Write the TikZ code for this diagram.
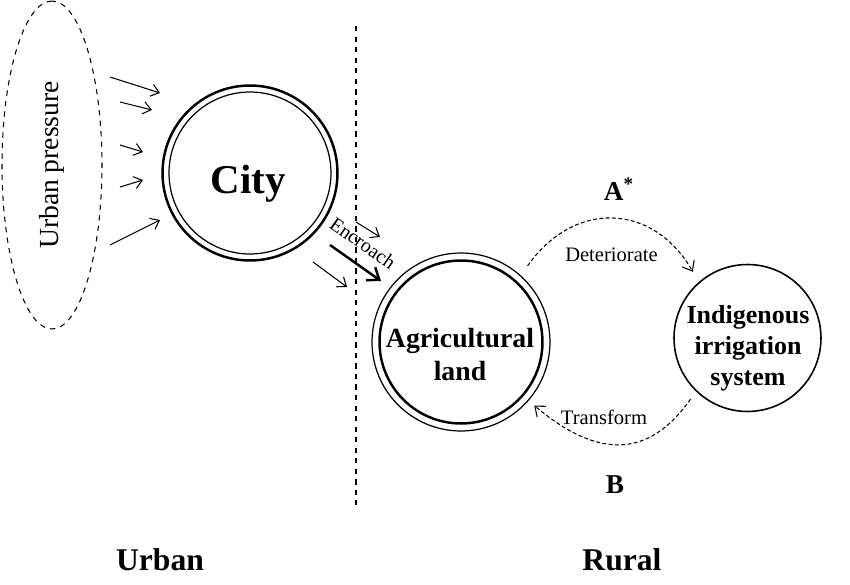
\documentclass[tikz,border=0pt]{standalone}
\usepackage{fontspec}
\setmainfont{Liberation Serif}
\usetikzlibrary{arrows.meta}
\usetikzlibrary{shapes.geometric}

\begin{document}
\begin{tikzpicture}[
        x=0.02cm, y=-0.02cm,
        ring/.style={circle, draw, inner sep=0pt},
        bigtext/.style={font=\bfseries\fontsize{15.8}{18.8}\selectfont, align=center},
        pressure/.style={-{Straight Barb[length=4.5pt, width=7pt]}, line width=0.6pt},
        cyclearrow/.style={-{Straight Barb[length=5pt, width=8pt]},
        dash pattern=on 2.2pt off 1.4pt, line width=0.6pt},
        smalltext/.style={font=\fontsize{11.7}{13}\selectfont},
        sidetext/.style={font=\bfseries\fontsize{18}{20}\selectfont, anchor=base},
    ]
    \useasboundingbox (0,0) rectangle (850,585);

    % --- Presion urbana ---
    \node[draw, ellipse, dashed, line width=0.6pt, minimum width=6.56cm, minimum height=2cm,
        rotate=90, font=\fontsize{15.7}{18}\selectfont] (press) at (52,165) {Urban pressure};

    % --- Ciudad ---
    \node[ring, line width=1.4pt, minimum size=3.5cm] (city) at (250,173) {};
    \node[ring, line width=0.7pt, minimum size=3.24cm] (cityin) at (city) {};
    \node[font=\bfseries\fontsize{23.3}{26}\selectfont, anchor=base] (citylbl) at (248,193) {City};

    % --- Flechas de presion ---
    \foreach \i/\sx/\sy/\ex/\ey in {1/110/77/160/93, 2/120/102/152/110, 3/120/145/143/152,
        4/120/187/143/180, 5/110/245/160/220} {
        \coordinate (ps\i) at (\sx,\sy);
        \coordinate (pe\i) at (\ex,\ey);
        \draw[pressure] (ps\i) -- (pe\i);
    }

    % --- Linea divisoria ---
    \coordinate (divtop) at (356,26);
    \coordinate (divbot) at (356,505);
    \draw[dashed, line width=0.6pt] (divtop) -- (divbot);

    % --- Invasion ---
    \foreach \i/\sx/\sy/\ex/\ey in {1/356/222/380/237, 3/313/262/347/287} {
        \coordinate (es\i) at (\sx,\sy);
        \coordinate (ee\i) at (\ex,\ey);
        \draw[pressure] (es\i) -- (ee\i);
    }
    \coordinate (es2) at (330,245);
    \coordinate (ee2) at (381,281);
    \draw[-{Straight Barb[length=6pt, width=9pt]}, line width=1.4pt] (es2) -- (ee2);
    \node[smalltext, font=\fontsize{11.3}{13}\selectfont, rotate=-35] (encr) at (363,243) {Encroach};

    % --- Tierra agricola ---
    \node[ring, line width=0.7pt, minimum size=3.56cm] (agri) at (461,342) {};
    \node[ring, line width=1.4pt, minimum size=3.26cm] (agriin) at (agri) {};
    \node[bigtext] (agrilbl) at (460,354.5) {Agricultural\\land};

    % --- Sistema de riego ---
    \node[ring, line width=0.9pt, minimum size=2.94cm] (indig) at (747.5,338) {};
    \node[bigtext, font=\bfseries\fontsize{14.8}{17.6}\selectfont] (indiglbl) at (748,348)
        {Indigenous\\irrigation\\system};

    % --- Ciclo ---
    \draw[cyclearrow, shorten <=6.6pt, shorten >=6.7pt]
        (agri.48) .. controls +(52.8,-75.3) and +(-46,-79.7) .. (indig.131);
    \draw[cyclearrow, shorten <=5.3pt, shorten >=4.2pt]
        (indig.226) .. controls +(-49.4,70.4) and +(65.9,55.3) .. (agri.319);
    \node[smalltext] (detlbl) at (611.5,255) {Deteriorate};
    \node[smalltext] (trflbl) at (604,417) {Transform};

    % --- Etiquetas ---
    \node[sidetext, font=\bfseries\fontsize{15.5}{18}\selectfont] (labA) at (619,200) {A\textsuperscript{*}};
    \node[sidetext, font=\bfseries\fontsize{15.5}{18}\selectfont] (labB) at (615,493) {B};
    \node[sidetext] (urban) at (160,570) {Urban};
    \node[sidetext] (rural) at (622,570) {Rural};
\end{tikzpicture}
\end{document}
